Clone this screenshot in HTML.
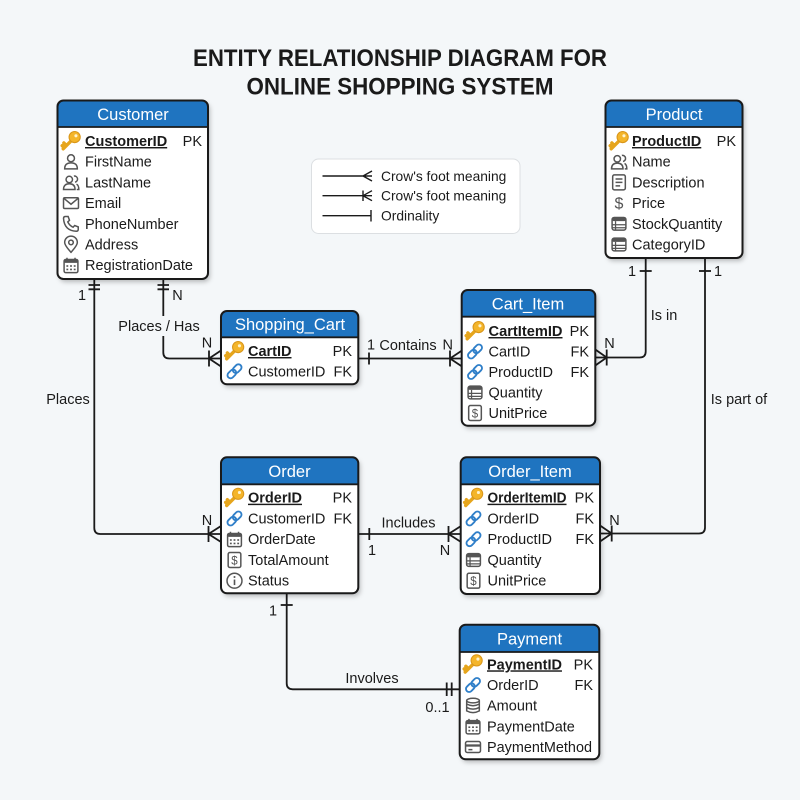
<!DOCTYPE html>
<html>
<head>
<meta charset="utf-8">
<style>
html,body{margin:0;padding:0;background:#f4f7f9;}
svg{display:block;}
text{font-family:"Liberation Sans",Arial,sans-serif;fill:#1a1a1a;}
.t{font-size:14.5px;}
.b{font-size:14.5px;font-weight:bold;text-decoration:underline;}
.h{font-size:16.5px;fill:#fff;}
.lbl{font-size:14.5px;}
.ic{fill:none;stroke:#555;stroke-width:1.3;}
.ln{fill:none;stroke:#1a1a1a;stroke-width:1.8;}
</style>
</head>
<body>
<svg width="800" height="800" viewBox="0 0 800 800" xmlns="http://www.w3.org/2000/svg">
<defs>
<filter id="sh" x="-10%" y="-10%" width="130%" height="130%">
<feDropShadow dx="2" dy="3" stdDeviation="2.5" flood-color="#000" flood-opacity="0.25"/>
</filter>
<g id="key" transform="scale(1.3)">
<path d="M1 -1 L-6 6 M-3.5 3.5 L-5.5 1.5 M-5.2 5.2 L-6.8 3.6" stroke="#e6a51c" stroke-width="2.6" stroke-linecap="round" fill="none"/>
<circle cx="2.8" cy="-3" r="4.3" fill="#f4b52a" stroke="#d9961a" stroke-width="0.8"/>
<circle cx="3.8" cy="-4" r="1.2" fill="#fff3d0"/>
</g>
<g id="link" transform="scale(1.15)">
<g transform="rotate(-45)" fill="none" stroke="#2f7fc9" stroke-width="1.6">
<rect x="-7.5" y="-2.7" width="8.5" height="5.4" rx="2.7"/>
<rect x="-1" y="-2.7" width="8.5" height="5.4" rx="2.7"/>
</g>
</g>
<g id="person" class="ic" transform="scale(1.15)">
<circle cx="0" cy="-3" r="3"/>
<path d="M-5.5 6.2 Q-5.5 1 0 1 Q5.5 1 5.5 6.2 Z"/>
</g>
<g id="people" class="ic" transform="scale(1.15)">
<circle cx="-1.5" cy="-2.5" r="2.8"/>
<path d="M-6.5 6.2 Q-6.5 1.2 -1.5 1.2 Q3.5 1.2 3.5 6.2 Z"/>
<path d="M2.5 -5.5 A2.6 2.6 0 0 1 3.5 -0.2 M4.8 1.5 Q6.8 2.5 6.8 6.2 H5"/>
</g>
<g id="mail" class="ic" transform="scale(1.15)">
<rect x="-6.5" y="-4.7" width="13" height="9.4" rx="1"/>
<path d="M-6.2 -4.2 L0 1 L6.2 -4.2"/>
</g>
<g id="phone" class="ic" transform="scale(1.15)">
<path d="M-4.8 -6.3 L-2.5 -6.3 L-1.3 -3 L-2.8 -1.6 Q-1.3 1.6 1.8 3 L3.2 1.5 L6.3 2.7 L6.3 5 Q6.3 6.5 4.6 6.5 Q-5.8 6 -6.5 -4.6 Q-6.5 -6.3 -4.8 -6.3 Z"/>
</g>
<g id="pin" class="ic" transform="scale(1.15)">
<path d="M0 6.8 Q-5.5 0.8 -5.5 -1.8 A5.5 5.5 0 0 1 5.5 -1.8 Q5.5 0.8 0 6.8 Z"/>
<circle cx="0" cy="-1.8" r="2"/>
</g>
<g id="cal" transform="scale(1.15)">
<rect x="-6" y="-5" width="12" height="11.5" rx="1.5" fill="none" stroke="#555" stroke-width="1.3"/>
<rect x="-6" y="-5" width="12" height="3" rx="1" fill="#555"/>
<path d="M-3.5 -6.5 V-4.5 M3.5 -6.5 V-4.5" stroke="#555" stroke-width="1.3"/>
<g fill="#555">
<rect x="-4" y="0" width="1.6" height="1.4"/><rect x="-0.8" y="0" width="1.6" height="1.4"/><rect x="2.4" y="0" width="1.6" height="1.4"/>
<rect x="-4" y="3" width="1.6" height="1.4"/><rect x="-0.8" y="3" width="1.6" height="1.4"/><rect x="2.4" y="3" width="1.6" height="1.4"/>
</g>
</g>
<g id="doc" class="ic" transform="scale(1.15)">
<rect x="-5.5" y="-6.5" width="11" height="13" rx="1.5"/>
<path d="M-3 -3 H3 M-3 0 H3 M-3 3 H1"/>
</g>
<g id="tbl" transform="scale(1.15)">
<rect x="-6" y="-5.5" width="12" height="11" rx="1.8" fill="none" stroke="#555" stroke-width="1.3"/>
<rect x="-6" y="-5.5" width="12" height="3.2" rx="1.5" fill="#555"/>
<path d="M-6 0.8 H6 M-6 3.4 H6 M-3 -2.3 V5.5" stroke="#555" stroke-width="1.1"/>
</g>
<g id="dbox" transform="scale(1.15)">
<rect x="-5.5" y="-6.5" width="11" height="13" rx="1.5" fill="none" stroke="#555" stroke-width="1.3"/>
<text x="0" y="3.8" text-anchor="middle" style="font-size:10px;fill:#555;">$</text>
</g>
<g id="info" transform="scale(1.15)">
<circle cx="0" cy="0" r="6.5" fill="none" stroke="#555" stroke-width="1.3"/>
<circle cx="0" cy="-3.2" r="0.9" fill="#555"/>
<path d="M0 -1 V3.8" stroke="#555" stroke-width="1.4"/>
</g>
<g id="db" class="ic" transform="scale(1.15)">
<ellipse cx="0" cy="-4.5" rx="5.5" ry="2"/>
<path d="M-5.5 -4.5 V4.5 Q0 7.5 5.5 4.5 V-4.5 M-5.5 -1.5 Q0 1.5 5.5 -1.5 M-5.5 1.5 Q0 4.5 5.5 1.5"/>
</g>
<g id="card" transform="scale(1.15)">
<rect x="-6.5" y="-4.8" width="13" height="9.6" rx="1.5" fill="none" stroke="#555" stroke-width="1.3"/>
<rect x="-6.5" y="-2.3" width="13" height="2" fill="#555"/>
<path d="M-4 2.3 H-0.5" stroke="#555" stroke-width="1.3"/>
</g>
</defs>

<!-- Title -->
<text x="400" y="66" text-anchor="middle" textLength="414" lengthAdjust="spacingAndGlyphs" style="font-size:24px;font-weight:bold;">ENTITY RELATIONSHIP DIAGRAM FOR</text>
<text x="400" y="94.5" text-anchor="middle" textLength="307" lengthAdjust="spacingAndGlyphs" style="font-size:24px;font-weight:bold;">ONLINE SHOPPING SYSTEM</text>

<!-- Legend -->
<rect x="311.5" y="159" width="208.5" height="74.5" rx="7" fill="#fff" stroke="#dcdfe2" stroke-width="1"/>
<g class="ln" style="stroke-width:1.4">
<path d="M322.5 176 H372 M372 171 L363 176 L372 181"/>
<path d="M322.5 195.7 H372 M372 190.7 L363 195.7 L372 200.7 M363 190.5 V201"/>
<path d="M322.5 215.7 H371 M371 210 V221.5"/>
</g>
<text x="381" y="181" style="font-size:13.8px;">Crow's foot meaning</text>
<text x="381" y="200.7" style="font-size:13.8px;">Crow's foot meaning</text>
<text x="381" y="220.7" style="font-size:13.8px;">Ordinality</text>

<!-- Connectors -->
<g class="ln">
<path d="M94.3 279 V528 Q94.3 534 100.3 534 H221"/>
<path d="M88.5 285 H100 M88.5 289.3 H100"/>
<path d="M208.5 526 V542 M221 526 L208.5 534 L221 542"/>
<path d="M163.3 279 V352.5 Q163.3 358.5 169.3 358.5 H221"/>
<path d="M157.5 285 H169 M157.5 289.3 H169"/>
<path d="M209 350.5 V366.5 M221 350.5 L209 358.5 L221 366.5"/>
<path d="M358 358.5 H462"/>
<path d="M369 352.5 V364.5"/>
<path d="M450 350.5 V366.5 M462 350.5 L450 358.5 L462 366.5"/>
<path d="M645.7 258 V351.5 Q645.7 357.5 639.7 357.5 H595.3"/>
<path d="M639.7 271 H651.7"/>
<path d="M606.7 349.5 V365.5 M595.3 349.5 L606.7 357.5 L595.3 365.5"/>
<path d="M705 258 V527.5 Q705 533.5 699 533.5 H600"/>
<path d="M699 271 H711"/>
<path d="M611.7 525.5 V541.5 M600 525.5 L611.7 533.5 L600 541.5"/>
<path d="M358 534 H461"/>
<path d="M369.3 528 V540"/>
<path d="M448.5 526 V542 M461 526 L448.5 534 L461 542"/>
<path d="M286.7 593 V683.3 Q286.7 689.3 292.7 689.3 H460"/>
<path d="M280.7 605 H292.7"/>
<path d="M446.7 682.5 V696 M451.7 682.5 V696"/>
</g>

<!-- Connector labels -->
<rect x="115" y="316" width="89" height="20" fill="#f4f7f9"/>
<text class="lbl" x="159" y="331" text-anchor="middle">Places / Has</text>
<text class="lbl" x="68" y="404" text-anchor="middle">Places</text>
<text class="lbl" x="82" y="300" text-anchor="middle">1</text>
<text class="lbl" x="177.5" y="300" text-anchor="middle">N</text>
<text class="lbl" x="207" y="347.5" text-anchor="middle">N</text>
<text class="lbl" x="207" y="525" text-anchor="middle">N</text>
<text class="lbl" x="371" y="349.5" text-anchor="middle">1</text>
<text class="lbl" x="408" y="350" text-anchor="middle">Contains</text>
<text class="lbl" x="447.7" y="349.5" text-anchor="middle">N</text>
<text class="lbl" x="632" y="276" text-anchor="middle">1</text>
<text class="lbl" x="718" y="276" text-anchor="middle">1</text>
<text class="lbl" x="664" y="320" text-anchor="middle">Is in</text>
<text class="lbl" x="609.5" y="348" text-anchor="middle">N</text>
<text class="lbl" x="739" y="404" text-anchor="middle">Is part of</text>
<text class="lbl" x="614.5" y="525" text-anchor="middle">N</text>
<text class="lbl" x="408.5" y="527.5" text-anchor="middle">Includes</text>
<text class="lbl" x="372" y="555" text-anchor="middle">1</text>
<text class="lbl" x="445" y="555" text-anchor="middle">N</text>
<text class="lbl" x="273" y="615.5" text-anchor="middle">1</text>
<text class="lbl" x="372" y="683" text-anchor="middle">Involves</text>
<text class="lbl" x="437.5" y="712" text-anchor="middle">0..1</text>

<!-- Customer -->
<g filter="url(#sh)"><rect x="57.5" y="100.5" width="150.5" height="178.5" rx="6" fill="#fff"/></g>
<path d="M57.5 127 V106.5 Q57.5 100.5 63.5 100.5 H202 Q208 100.5 208 106.5 V127 Z" fill="#1f74c0"/>
<rect x="57.5" y="100.5" width="150.5" height="178.5" rx="6" fill="none" stroke="#1a1a1a" stroke-width="2"/>
<path d="M57.5 127 H208" stroke="#1a1a1a" stroke-width="1.8"/>
<text class="h" x="133" y="120" text-anchor="middle">Customer</text>
<use href="#key" x="71" y="141"/>
<text class="b" x="85" y="146">CustomerID</text><text class="t" x="202" y="146" text-anchor="end">PK</text>
<use href="#person" x="71" y="161.7"/><text class="t" x="85" y="166.7">FirstName</text>
<use href="#people" x="71" y="182.4"/><text class="t" x="85" y="187.4">LastName</text>
<use href="#mail" x="71" y="203.1"/><text class="t" x="85" y="208.1">Email</text>
<use href="#phone" x="71" y="223.8"/><text class="t" x="85" y="228.8">PhoneNumber</text>
<use href="#pin" x="71" y="244.5"/><text class="t" x="85" y="249.5">Address</text>
<use href="#cal" x="71" y="265.2"/><text class="t" x="85" y="270.2">RegistrationDate</text>

<!-- Product -->
<g filter="url(#sh)"><rect x="605.5" y="100.5" width="137" height="157.5" rx="6" fill="#fff"/></g>
<path d="M605.5 127 V106.5 Q605.5 100.5 611.5 100.5 H736.5 Q742.5 100.5 742.5 106.5 V127 Z" fill="#1f74c0"/>
<rect x="605.5" y="100.5" width="137" height="157.5" rx="6" fill="none" stroke="#1a1a1a" stroke-width="2"/>
<path d="M605.5 127 H742.5" stroke="#1a1a1a" stroke-width="1.8"/>
<text class="h" x="674" y="120" text-anchor="middle">Product</text>
<use href="#key" x="619" y="141"/>
<text class="b" x="632" y="146">ProductID</text><text class="t" x="736" y="146" text-anchor="end">PK</text>
<use href="#people" x="619" y="161.7"/><text class="t" x="632" y="166.7">Name</text>
<use href="#doc" x="619" y="182.4"/><text class="t" x="632" y="187.4">Description</text>
<text x="619" y="208.5" text-anchor="middle" style="font-size:16px;fill:#555;">$</text><text class="t" x="632" y="208.1">Price</text>
<use href="#tbl" x="619" y="223.8"/><text class="t" x="632" y="228.8">StockQuantity</text>
<use href="#tbl" x="619" y="244.5"/><text class="t" x="632" y="249.5">CategoryID</text>

<!-- Shopping_Cart -->
<g filter="url(#sh)"><rect x="221" y="311" width="137.3" height="73.3" rx="6" fill="#fff"/></g>
<path d="M221 337.3 V317 Q221 311 227 311 H352.3 Q358.3 311 358.3 317 V337.3 Z" fill="#1f74c0"/>
<rect x="221" y="311" width="137.3" height="73.3" rx="6" fill="none" stroke="#1a1a1a" stroke-width="2"/>
<path d="M221 337.3 H358.3" stroke="#1a1a1a" stroke-width="1.8"/>
<text class="h" x="290" y="330" text-anchor="middle">Shopping_Cart</text>
<use href="#key" x="234.5" y="351"/>
<text class="b" x="248" y="356">CartID</text><text class="t" x="352" y="356" text-anchor="end">PK</text>
<use href="#link" x="234.5" y="371.3"/><text class="t" x="248" y="376.3">CustomerID</text><text class="t" x="352" y="376.3" text-anchor="end">FK</text>

<!-- Cart_Item -->
<g filter="url(#sh)"><rect x="461.7" y="290" width="133.6" height="135.7" rx="6" fill="#fff"/></g>
<path d="M461.7 316.7 V296 Q461.7 290 467.7 290 H589.3 Q595.3 290 595.3 296 V316.7 Z" fill="#1f74c0"/>
<rect x="461.7" y="290" width="133.6" height="135.7" rx="6" fill="none" stroke="#1a1a1a" stroke-width="2"/>
<path d="M461.7 316.7 H595.3" stroke="#1a1a1a" stroke-width="1.8"/>
<text class="h" x="528" y="309.5" text-anchor="middle">Cart_Item</text>
<use href="#key" x="475" y="331"/>
<text class="b" x="488.5" y="336" textLength="74" lengthAdjust="spacingAndGlyphs">CartItemID</text><text class="t" x="589" y="336" text-anchor="end">PK</text>
<use href="#link" x="475" y="351.5"/><text class="t" x="488.5" y="356.5">CartID</text><text class="t" x="589" y="356.5" text-anchor="end">FK</text>
<use href="#link" x="475" y="372"/><text class="t" x="488.5" y="377">ProductID</text><text class="t" x="589" y="377" text-anchor="end">FK</text>
<use href="#tbl" x="475" y="392.5"/><text class="t" x="488.5" y="397.5">Quantity</text>
<use href="#dbox" x="475" y="413"/><text class="t" x="488.5" y="418">UnitPrice</text>

<!-- Order -->
<g filter="url(#sh)"><rect x="221" y="457.3" width="137.3" height="136" rx="6" fill="#fff"/></g>
<path d="M221 484.3 V463.3 Q221 457.3 227 457.3 H352.3 Q358.3 457.3 358.3 463.3 V484.3 Z" fill="#1f74c0"/>
<rect x="221" y="457.3" width="137.3" height="136" rx="6" fill="none" stroke="#1a1a1a" stroke-width="2"/>
<path d="M221 484.3 H358.3" stroke="#1a1a1a" stroke-width="1.8"/>
<text class="h" x="289.5" y="477" text-anchor="middle">Order</text>
<use href="#key" x="234.5" y="497.7"/>
<text class="b" x="248" y="502.7">OrderID</text><text class="t" x="352" y="502.7" text-anchor="end">PK</text>
<use href="#link" x="234.5" y="518.5"/><text class="t" x="248" y="523.5">CustomerID</text><text class="t" x="352" y="523.5" text-anchor="end">FK</text>
<use href="#cal" x="234.5" y="539.2"/><text class="t" x="248" y="544.2">OrderDate</text>
<use href="#dbox" x="234.5" y="560"/><text class="t" x="248" y="565">TotalAmount</text>
<use href="#info" x="234.5" y="580.7"/><text class="t" x="248" y="585.7">Status</text>

<!-- Order_Item -->
<g filter="url(#sh)"><rect x="460.7" y="457.3" width="139.3" height="136.7" rx="6" fill="#fff"/></g>
<path d="M460.7 484.3 V463.3 Q460.7 457.3 466.7 457.3 H594 Q600 457.3 600 463.3 V484.3 Z" fill="#1f74c0"/>
<rect x="460.7" y="457.3" width="139.3" height="136.7" rx="6" fill="none" stroke="#1a1a1a" stroke-width="2"/>
<path d="M460.7 484.3 H600" stroke="#1a1a1a" stroke-width="1.8"/>
<text class="h" x="530" y="477" text-anchor="middle">Order_Item</text>
<use href="#key" x="473.5" y="497.7"/>
<text class="b" x="487.5" y="502.7" textLength="79" lengthAdjust="spacingAndGlyphs">OrderItemID</text><text class="t" x="594" y="502.7" text-anchor="end">PK</text>
<use href="#link" x="473.5" y="518.5"/><text class="t" x="487.5" y="523.5">OrderID</text><text class="t" x="594" y="523.5" text-anchor="end">FK</text>
<use href="#link" x="473.5" y="539.2"/><text class="t" x="487.5" y="544.2">ProductID</text><text class="t" x="594" y="544.2" text-anchor="end">FK</text>
<use href="#tbl" x="473.5" y="560"/><text class="t" x="487.5" y="565">Quantity</text>
<use href="#dbox" x="473.5" y="580.7"/><text class="t" x="487.5" y="585.7">UnitPrice</text>

<!-- Payment -->
<g filter="url(#sh)"><rect x="459.7" y="624.7" width="139.6" height="134.6" rx="6" fill="#fff"/></g>
<path d="M459.7 652 V630.7 Q459.7 624.7 465.7 624.7 H593.3 Q599.3 624.7 599.3 630.7 V652 Z" fill="#1f74c0"/>
<rect x="459.7" y="624.7" width="139.6" height="134.6" rx="6" fill="none" stroke="#1a1a1a" stroke-width="2"/>
<path d="M459.7 652 H599.3" stroke="#1a1a1a" stroke-width="1.8"/>
<text class="h" x="529.5" y="644.5" text-anchor="middle">Payment</text>
<use href="#key" x="473" y="664.3"/>
<text class="b" x="487" y="669.3">PaymentID</text><text class="t" x="593" y="669.3" text-anchor="end">PK</text>
<use href="#link" x="473" y="685"/><text class="t" x="487" y="690">OrderID</text><text class="t" x="593" y="690" text-anchor="end">FK</text>
<use href="#db" x="473" y="705.7"/><text class="t" x="487" y="710.7">Amount</text>
<use href="#cal" x="473" y="726.4"/><text class="t" x="487" y="731.4">PaymentDate</text>
<use href="#card" x="473" y="747"/><text class="t" x="487" y="752" textLength="105" lengthAdjust="spacingAndGlyphs">PaymentMethod</text>
</svg>
</body>
</html>
